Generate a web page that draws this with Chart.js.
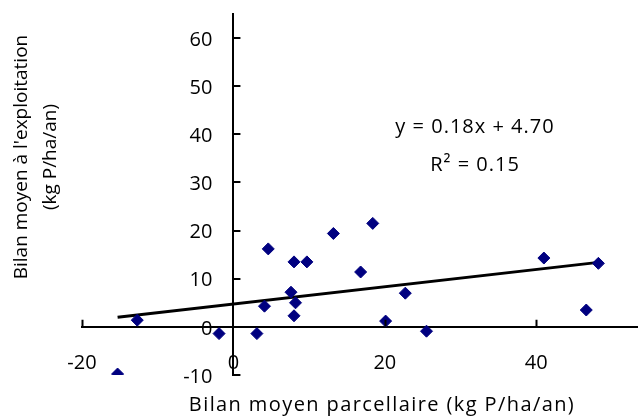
<!DOCTYPE html>
<html>
<head>
<meta charset="utf-8">
<script src="https://cdn.jsdelivr.net/npm/chart.js@4/dist/chart.umd.min.js"></script>
<style>
  html, body { margin:0; padding:0; background:#fff; }
  #c { display:block; }
</style>
</head>
<body>
<canvas id="c" width="638" height="416"></canvas>
<script>
const FONT = "'Open Sans', 'Liberation Sans', sans-serif";
const NAVY = "#000080";

// bilan parcellaire (x) / bilan exploitation (y), kg P/ha/an
const bilanParcelle = [-15.3, -12.7, -1.9, 3.1, 4.1, 4.6, 8.0, 9.7, 7.6, 8.2, 8.0, 13.2, 16.8, 18.4, 20.1, 22.7, 25.5, 41.0, 46.6, 48.2];
const bilanExploit  = [-9.8, 1.4, -1.4, -1.4, 4.3, 16.2, 13.5, 13.5, 7.2, 5.0, 2.3, 19.4, 11.4, 21.5, 1.2, 7.0, -0.9, 14.3, 3.5, 13.2];

// droite de regression y = 0.18x + 4.70 (extrémités)
const trendX = [-15.3, 48.2];
const trendY = [2.0, 13.4];

const xTicks = [-20, 0, 20, 40];
const yTicks = [-10, 0, 10, 20, 30, 40, 50, 60];

const eqText = "y = 0.18x + 4.70";
const r2Text = "R² = 0.15";
const xTitle = "Bilan moyen parcellaire (kg P/ha/an)";
const yTitle = ["Bilan moyen à l'exploitation", "(kg P/ha/an)"];

const points = bilanParcelle.map((x, i) => ({ x, y: bilanExploit[i] }));
const trend = trendX.map((x, i) => ({ x, y: trendY[i] }));

const keepTicks = (list) => (scale) => {
  scale.ticks = list.map(v => ({ value: v }));
};
// les étiquettes ne doivent pas rogner la zone du graphe
const noPadding = (scale) => {
  scale.paddingLeft = scale.paddingRight = scale.paddingTop = scale.paddingBottom = 0;
};

// graduations vers l'intérieur, étiquettes de l'axe Y, titres, équation
const decor = {
  id: "decor",
  afterDraw(chart) {
    const { ctx, scales: { x, y } } = chart;
    const x0 = x.getPixelForValue(0);
    const y0 = y.getPixelForValue(0);
    ctx.save();
    ctx.strokeStyle = "#000";
    ctx.lineWidth = 2;
    ctx.beginPath();
    xTicks.forEach(v => {
      if (v === 0) return;
      const px = Math.round(x.getPixelForValue(v)) + 0.5;
      ctx.moveTo(px, y0);
      ctx.lineTo(px, y0 - 7);
    });
    yTicks.forEach(v => {
      const py = Math.round(y.getPixelForValue(v));
      ctx.moveTo(x0, py);
      ctx.lineTo(x0 + 7, py);
    });
    ctx.stroke();

    ctx.fillStyle = "#000";
    ctx.textBaseline = "middle";
    ctx.font = `20px ${FONT}`;
    // l'axe Y positionné sur x=0 ignore ticks.padding : on pose les étiquettes ici
    ctx.textAlign = "right";
    y.ticks.forEach(t => {
      ctx.fillText(String(t.value), x0 - 21, y.getPixelForValue(t.value) + 2);
    });

    ctx.textAlign = "center";
    ctx.letterSpacing = "1px";
    ctx.fillText(eqText, 475, 127);
    ctx.fillText(r2Text, 475, 165);
    ctx.letterSpacing = "1.4px";
    ctx.fillText(xTitle, 382, 405);

    ctx.letterSpacing = "0px";
    ctx.font = `19px ${FONT}`;
    ctx.translate(0, 157);
    ctx.rotate(-Math.PI / 2);
    ctx.fillText(yTitle[0], 0, 22);
    ctx.fillText(yTitle[1], 0, 51);
    ctx.restore();
  }
};

new Chart(document.getElementById("c"), {
  type: "scatter",
  data: {
    datasets: [
      {
        type: "line",
        data: trend,
        borderColor: "#000",
        borderWidth: 3,
        pointRadius: 0,
        fill: false,
        order: 2
      },
      {
        data: points,
        pointStyle: "rectRot",
        pointRadius: 6,
        backgroundColor: NAVY,
        borderColor: NAVY,
        borderWidth: 1,
        order: 1
      }
    ]
  },
  options: {
    responsive: false,
    animation: false,
    devicePixelRatio: 1,
    layout: { autoPadding: false, padding: { left: 82, top: 14, right: 1, bottom: 41 } },
    plugins: { legend: { display: false }, tooltip: { enabled: false } },
    scales: {
      x: {
        type: "linear",
        position: { y: 0 },
        min: -20, max: 53.3,
        afterBuildTicks: keepTicks(xTicks),
        afterFit: noPadding,
        grid: { display: false, drawTicks: false },
        border: { display: true, color: "#000", width: 2 },
        ticks: { color: "#000", font: { family: FONT, size: 20 }, padding: 24, autoSkip: false, maxRotation: 0 }
      },
      y: {
        type: "linear",
        position: { x: 0 },
        min: -10, max: 65,
        afterBuildTicks: keepTicks(yTicks),
        afterFit: noPadding,
        grid: { display: false, drawTicks: false },
        border: { display: true, color: "#000", width: 2 },
        ticks: { display: false }
      }
    }
  },
  plugins: [decor]
});
</script>
</body>
</html>
